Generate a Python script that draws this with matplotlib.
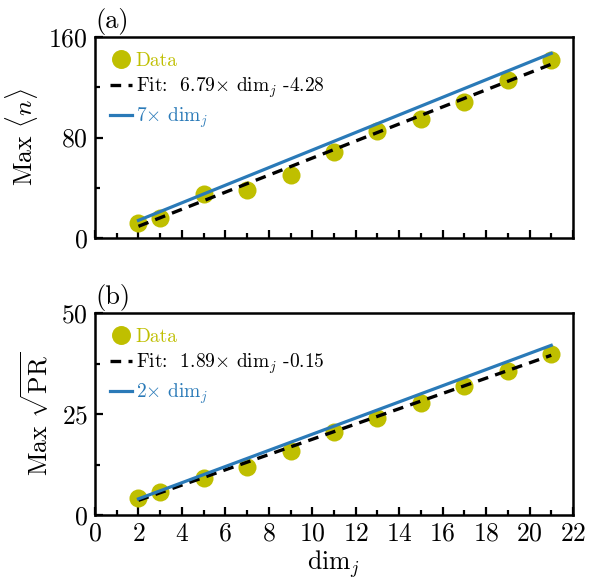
import matplotlib
matplotlib.use('agg')
import matplotlib.pyplot as plt
from matplotlib.ticker import MultipleLocator
import numpy as np

plt.rcParams['font.family'] = 'serif'
plt.rcParams['font.serif'] = ['cmr10']
plt.rcParams['mathtext.fontset'] = 'cm'
plt.rcParams['axes.unicode_minus'] = False
plt.rcParams['axes.formatter.use_mathtext'] = True

# data
dims = [2, 3, 5, 7, 9, 11, 13, 15, 17, 19, 21]
max_n = [12, 16, 35, 38, 50, 68.5, 85.5, 94.7, 108.5, 126, 142]
max_sqrt_pr = [4.2, 5.7, 9.2, 12.0, 15.9, 20.6, 23.9, 27.8, 31.9, 35.6, 39.8]

fit_n = (6.79, -4.28)
fit_pr = (1.89, -0.15)
ref_n = 7
ref_pr = 2

olive = '#bfbf00'
blue = '#2a7ab8'

fig = plt.figure(figsize=(5.89, 5.83), dpi=100)
ax1 = fig.add_axes([0.1613, 0.5918, 0.8115, 0.3447])
ax2 = fig.add_axes([0.1613, 0.1166, 0.8115, 0.3465])


def draw_panel(ax, y, fit, ref, fit_txt, ref_txt, ylim, ymaj, label, tag):
    x = np.array(dims, dtype=float)
    xl = np.array([dims[0], dims[-1]], dtype=float)
    ax.plot(x, y, 'o', color=olive, ms=13, mew=0, label='Data', zorder=2)
    ax.plot(xl, fit[0] * xl + fit[1], '--', color='black', lw=2.4,
            dashes=(3.2, 2.2), label=fit_txt, zorder=3)
    ax.plot(xl, ref * xl, '-', color=blue, lw=2.3, label=ref_txt, zorder=4)
    ax.set_xlim(0, 22)
    ax.set_ylim(*ylim)
    ax.xaxis.set_major_locator(MultipleLocator(2))
    ax.xaxis.set_minor_locator(MultipleLocator(1))
    ax.yaxis.set_major_locator(MultipleLocator(ymaj))
    ax.yaxis.set_minor_locator(MultipleLocator(ymaj / 2))
    ax.tick_params(which='both', direction='in', top=False, right=False,
                   width=1.6, labelsize=18.5, pad=5)
    ax.tick_params(which='major', length=6)
    ax.tick_params(which='minor', length=3.5)
    for s in ax.spines.values():
        s.set_linewidth(1.8)
    ax.set_ylabel(label, fontsize=18.5, labelpad=6)
    ax.text(0.0, 1.01, tag, transform=ax.transAxes, fontsize=19,
            ha='left', va='bottom')
    leg = ax.legend(loc='upper left', frameon=False, fontsize=14,
                    handlelength=1.15, handletextpad=0.2, labelspacing=0.3,
                    borderaxespad=0.3, borderpad=0.45, markerscale=1.05)
    cols = [olive, 'black', blue]
    for t, c in zip(leg.get_texts(), cols):
        t.set_color(c)


draw_panel(ax1, max_n, fit_n, ref_n,
           r'Fit:  6.79$\times$ dim$_j$ -4.28', r'7$\times$ dim$_j$',
           (0, 160), 80, r'Max $\langle n\rangle$', '(a)')
ax1.tick_params(labelbottom=False)

draw_panel(ax2, max_sqrt_pr, fit_pr, ref_pr,
           r'Fit:  1.89$\times$ dim$_j$ -0.15', r'2$\times$ dim$_j$',
           (0, 50), 25, r'Max $\sqrt{\mathrm{PR}}$', '(b)')
ax2.set_xlabel(r'dim$_j$', fontsize=18.5, labelpad=2)

fig.savefig('out.png', dpi=100)
